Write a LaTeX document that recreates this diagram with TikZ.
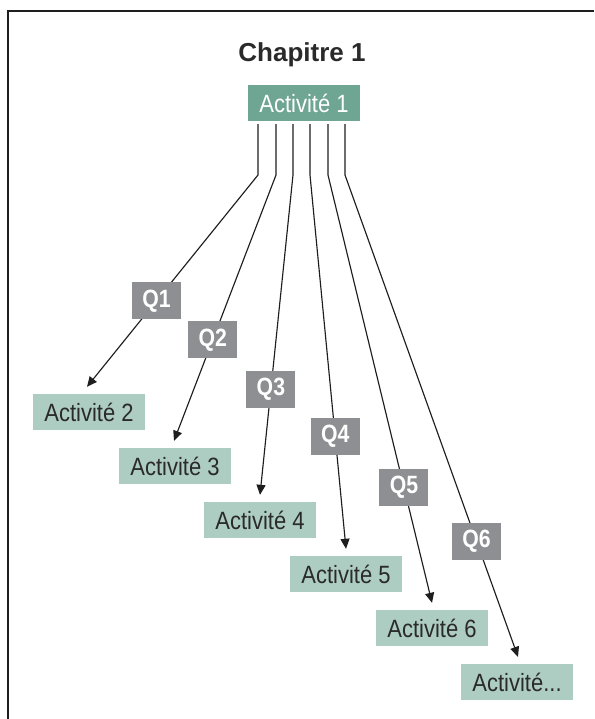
\documentclass[tikz,border=0pt]{standalone}
\usepackage{fontspec}
\setmainfont{Liberation Sans}
\newfontfamily\actfont[FakeStretch=0.88]{Liberation Sans}
\newfontfamily\qfont[FakeStretch=0.85]{Liberation Sans}
\usetikzlibrary{arrows.meta}
\definecolor{dgreen}{HTML}{6FA593}
\definecolor{lgreen}{HTML}{AECDC2}
\definecolor{qgrey}{HTML}{8E8F93}
\definecolor{txtgrey}{HTML}{2A2A2A}
\definecolor{linecol}{HTML}{1E1E1E}
\tikzset{
  actbox/.style={fill=lgreen, minimum width=112pt, minimum height=36pt, inner sep=0pt,
    text=txtgrey, font=\actfont\fontsize{25}{25}\selectfont},
  mainbox/.style={fill=dgreen, minimum width=112pt, minimum height=36pt, inner sep=0pt,
    text=white, font=\actfont\fontsize{25}{25}\selectfont},
  qbox/.style={fill=qgrey, minimum width=49pt, minimum height=37pt, inner sep=0pt,
    text=white, font=\qfont\bfseries\fontsize{25}{25}\selectfont},
  conn/.style={draw=linecol, line width=1.15pt, -{Triangle[length=10pt,width=9pt]}},
}
\begin{document}
\begin{tikzpicture}[x=1pt, y=-1pt]
\useasboundingbox (0,0) rectangle (594,719);
\draw[linecol, line width=1.3pt] (8,719) -- (8,11) -- (594,11);
\node[anchor=base, font=\bfseries\fontsize{26}{26}\selectfont, text=txtgrey] (title) at (302,62) {Chapitre 1};
\node[mainbox] (a1) at (304,103) {Activité 1};
\node[actbox] (a2) at (89,412) {Activité 2};
\node[actbox] (a3) at (175,466) {Activité 3};
\node[actbox] (a4) at (260,520) {Activité 4};
\node[actbox] (a5) at (346,574) {Activité 5};
\node[actbox] (a6) at (432,628) {Activité 6};
\node[actbox] (a7) at (517,682) {Activité...};
\coordinate (b1) at (258,175);
\coordinate (b2) at (276,175);
\coordinate (b3) at (293,175);
\coordinate (b4) at (310,175);
\coordinate (b5) at (328,175);
\coordinate (b6) at (345,175);
\draw[conn] ([yshift=-3pt]a1.south -| b1) -- (b1) -- ([xshift=-2pt,yshift=7pt]a2.north) node[qbox, pos=0.594] (q1) {Q1};
\draw[conn] ([yshift=-3pt]a1.south -| b2) -- (b2) -- ([xshift=-1pt,yshift=7pt]a3.north) node[qbox, pos=0.62] (q2) {Q2};
\draw[conn] ([yshift=-3pt]a1.south -| b3) -- (b3) -- ([yshift=7pt]a4.north) node[qbox, pos=0.67] (q3) {Q3};
\draw[conn] ([yshift=-3pt]a1.south -| b4) -- (b4) -- ([yshift=7pt]a5.north) node[qbox, pos=0.70] (q4) {Q4};
\draw[conn] ([yshift=-3pt]a1.south -| b5) -- (b5) -- ([yshift=7pt]a6.north) node[qbox, pos=0.73] (q5) {Q5};
\draw[conn] ([yshift=-3pt]a1.south -| b6) -- (b6) -- ([xshift=1pt,yshift=7pt]a7.north) node[qbox, pos=0.76] (q6) {Q6};
\end{tikzpicture}
\end{document}
